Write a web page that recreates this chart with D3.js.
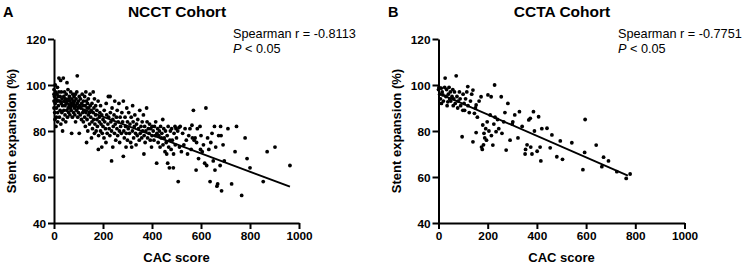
<!DOCTYPE html>
<html>
<head>
<meta charset="utf-8">
<script src="https://cdn.jsdelivr.net/npm/d3@7"></script>
<style>
  body { margin: 0; background: #fff; }
  svg { font-family: "Liberation Sans", Arial, sans-serif; }
  .tick text { font-weight: bold; font-size: 11.8px; }
</style>
</head>
<body>
<svg id="chart" width="753" height="268"></svg>
<script>
const width = 753;
const height = 268;

// NCCT cohort: [CAC score, stent expansion %]
const ncctPoints = [
  [0,98],[0,96],[0,93],[0,90],[2,95],[3,88],[4,85],[5,100],[5,92],[6,97],[8,94],[8,82],[10,90],[10,86],
  [12,96],[13,93],[14,99],[15,88],[15,84],[17,95],[18,91],[20,97],[20,103],[22,86],[23,93],[25,89],
  [25,95],[27,102],[28,83],[30,92],[30,97],[32,88],[33,94],[35,80],[35,91],[37,85],[38,103],[40,95],
  [40,89],[42,93],[43,97],[45,87],[45,91],[47,94],[48,84],[50,92],[50,96],[52,89],[53,101],[55,93],
  [55,86],[57,98],[58,90],[60,94],[60,88],[62,91],[63,95],[65,87],[65,93],[67,90],[68,97],[70,92],
  [70,89],[72,79],[73,94],[75,91],[75,86],[77,96],[78,93],[80,88],[80,92],[82,95],[83,90],[85,87],
  [85,93],[87,96],[88,84],[90,91],[90,94],[92,89],[93,97],[95,104],[95,92],[97,86],[98,90],[100,93],
  [100,88],
  [103,79],[103,95],[105,91],[107,87],[108,94],[110,90],[112,85],[113,92],[115,96],[117,88],[118,91],
  [120,84],[120,93],[122,89],[125,95],[125,86],[127,91],[128,82],[130,97],[130,88],[132,93],[133,75],
  [135,90],[135,85],[137,92],[138,80],[140,87],[140,94],[142,90],[145,83],[145,88],[147,96],[148,91],
  [150,86],[152,89],[153,77],[155,84],[155,92],[157,81],[160,97],[160,88],[162,85],[163,90],[165,79],
  [165,94],[167,83],[170,87],[170,91],[172,80],[175,85],[175,89],[177,82],[180,93],[181,72],[182,78],
  [185,86],[185,84],[187,88],[190,80],[190,91],[192,83],[195,73],[195,87],[197,79],[200,85],[200,82],
  [204,77],[205,89],[207,84],[210,81],[212,75],[213,92],[215,87],[217,79],[220,83],[222,95],[223,86],
  [225,81],[228,78],[229,95],[230,88],[232,84],[235,67],[235,80],[237,90],[240,73],[240,85],[242,82],
  [245,87],[247,79],[248,93],[250,83],[252,76],[255,86],[257,81],[258,89],[260,78],[262,84],[265,92],
  [267,80],[268,75],[270,86],[272,82],[275,79],[277,88],[280,84],[283,69],[283,93],[285,80],[287,77],
  [290,86],[292,82],[294,73],[295,79],[297,90],[300,84],[300,76],
  [303,81],[305,88],[308,79],[310,83],[313,75],[315,86],[317,73],[320,80],[321,91],[323,84],[325,77],
  [328,82],[330,87],[333,79],[335,74],[337,83],[340,78],[342,85],[345,81],[348,76],[350,89],[352,79],
  [355,82],[358,77],[360,84],[362,80],[365,87],[367,70],[368,78],[370,82],[372,75],[375,80],[378,90],
  [380,84],[382,77],[385,81],[388,79],[390,83],[393,76],[395,81],[398,73],[400,78],[400,82],
  [405,80],[408,76],[410,82],[413,78],[415,84],[419,66],[420,79],[423,81],[425,75],[428,78],[430,80],
  [433,73],[435,82],[438,77],[440,79],[444,85],[445,74],[448,81],[450,77],[453,71],[455,80],[458,75],
  [460,70],[462,78],[464,66],[466,82],[468,73],[471,64],[473,76],[475,80],[478,72],[480,81],[483,76],
  [487,64],[488,70],[490,79],[494,82],[495,74],[498,81],[500,77],
  [505,80],[507,58],[510,81.5],[512,73],[515,82],[520,71],[525,79],[530,74],[535,81],[540,76],[545,70],
  [550,78],[555,81],[560,72],[563,82.5],[565,77],[569,89],[572,76],[576,77],[580,63],[582,75],[585,81],
  [590,68],[596,82],[598,72],[600,78],[605,71],[610,74],[615,66],[620,90],[623,65],[627,77],[632,72],
  [637,58],[640,75],[645,79],[650,67],[655,82],[657,63],[660,73],[665,56],[668,57],[672,78],[678,65],
  [680,82],[682,78],[684,54],[690,74],[695,67],
  [710,81],[725,57],[739,71],[745,82],[766,52],[780,77],[788,68],[800,64],[854,58],[870,71],[902,73],
  [963,65]
];

// CCTA cohort
const cctaPoints = [
  [0,98],[2,99],[5,96],[8,94],[11,98.6],[12,92],[15,97],[18,95.7],[20,93],[25,99],[27,103],[30,95],
  [33,98],[35,91],[38,92.7],[40,96],[43,99],[45,94],[48,97],[50,93],[55,95],[58,98],[60,91],[62,94],
  [65,97],[68,92],[72,104],[75,95],[78,90],[80,93],[85,97],[88,94],[90,91],[96,77.5],[99,89],[100,96],
  [104,92],[106,89],[110,94],[115,97],[119,99.3],[120,91],[125,88],[130,93],[135,96],[140,75.3],
  [140,97.8],[146,87.7],[150,90],[153,79.3],[153,91.3],[158,86],[165,93],[173,94.9],[175,73],[178,72],
  [180,82.6],[183,74],[185,79],[188,77],[192,81],[195,76],[198,84],[201,95.7],[205,80],[210,87],
  [214,94.9],[215,78],[221,73.9],[225,83],[228,100],[230,86],[234,79.7],[240,85],[245,81],[255,94.9],
  [258,79],[265,84],[270,88],[275,71.7],[282,92],[291,76],[300,83],[302,84],[310,87],[323,77],
  [329,88.4],[340,82],[352,70],[354,72],[360,74],[367,84.8],[373,85.5],[375,73],[380,70],[386,88.4],
  [390,80],[401,71.2],[407,86.2],[413,73],[416,67],[420,81],[441,81.2],[454,72.7],[461,78.3],[481,68.8],
  [495,75.7],[504,67.7],[542,74.9],[587,63.2],[594,70.7],[596,85],[641,73.9],[664,64.5],[671,68.6],
  [691,67],[725,62.3],[763,59.4],[779,61.3]
];

// fitted lines [x0, y0, x1, y1]
const ncctFit = [[0, 94.2], [963, 55.8]];
const cctaFit = [[0, 96.5], [770, 60.6]];

const xTicks = [0, 200, 400, 600, 800, 1000];
const yTicks = [40, 60, 80, 100, 120];

const panels = [
  {letter: "A", title: "NCCT Cohort", r: "-0.8113", pts: ncctPoints, fit: ncctFit,
   x0: 54, x1: 299, letterX: 3, titleX: 177, statX: 233, labelX: 12},
  {letter: "B", title: "CCTA Cohort", r: "-0.7751", pts: cctaPoints, fit: cctaFit,
   x0: 438.5, x1: 684.5, letterX: 388, titleX: 562, statX: 618, labelX: 397}
];

var svg = d3.select("#chart");

const yTop = 39, yBot = 223;

panels.forEach((p) => {
  var xScale = d3.scaleLinear().domain([0, 1000]).range([p.x0, p.x1]);
  var yScale = d3.scaleLinear().domain([40, 120]).range([yBot, yTop]);

  var g = svg.append("g");

  var xAxis = g.append("g")
    .attr("transform", `translate(0,${yBot})`)
    .call(d3.axisBottom(xScale).tickValues(xTicks).tickFormat(d3.format("d"))
      .tickSize(6).tickSizeOuter(0).tickPadding(3));
  var yAxis = g.append("g")
    .attr("transform", `translate(${p.x0},0)`)
    .call(d3.axisLeft(yScale).tickValues(yTicks).tickSize(6).tickSizeOuter(0).tickPadding(2));

  [xAxis, yAxis].forEach((a) => {
    a.select(".domain").attr("stroke", "#000").attr("stroke-width", 2);
    a.selectAll(".tick line").attr("stroke", "#000").attr("stroke-width", 2);
    a.selectAll(".tick text").attr("fill", "#000");
  });
  yAxis.selectAll(".tick text").attr("dy", "0.36em");

  // points
  g.selectAll("circle")
    .data(p.pts)
    .enter()
    .append("circle")
    .attr("cx", d => xScale(d[0]))
    .attr("cy", d => yScale(d[1]))
    .attr("r", 1.9)
    .attr("fill", "#000");

  // fit line
  g.append("line")
    .attr("x1", xScale(p.fit[0][0])).attr("y1", yScale(p.fit[0][1]))
    .attr("x2", xScale(p.fit[1][0])).attr("y2", yScale(p.fit[1][1]))
    .attr("stroke", "#000").attr("stroke-width", 1.8);

  // texts
  g.append("text").text(p.letter)
    .attr("x", p.letterX).attr("y", 17)
    .attr("font-weight", "bold").attr("font-size", "14.5px");
  g.append("text").text(p.title)
    .attr("x", p.titleX).attr("y", 17).attr("text-anchor", "middle")
    .attr("font-weight", "bold").attr("font-size", "15.5px");
  g.append("text").text("Spearman r = " + p.r)
    .attr("x", p.statX).attr("y", 37.5).attr("font-size", "12.7px");
  var pt = g.append("text").attr("x", p.statX).attr("y", 53).attr("font-size", "12.7px");
  pt.append("tspan").text("P").attr("font-style", "italic");
  pt.append("tspan").text(" < 0.05");

  g.append("text").text("CAC score")
    .attr("x", (p.x0 + p.x1) / 2).attr("y", 262).attr("text-anchor", "middle")
    .attr("font-weight", "bold").attr("font-size", "13px");
  g.append("text").text("Stent expansion (%)")
    .attr("transform", `translate(${p.labelX + 4},${(yTop + yBot) / 2}) rotate(-90)`)
    .attr("text-anchor", "middle")
    .attr("font-weight", "bold").attr("font-size", "13px");
});
</script>
</body>
</html>
